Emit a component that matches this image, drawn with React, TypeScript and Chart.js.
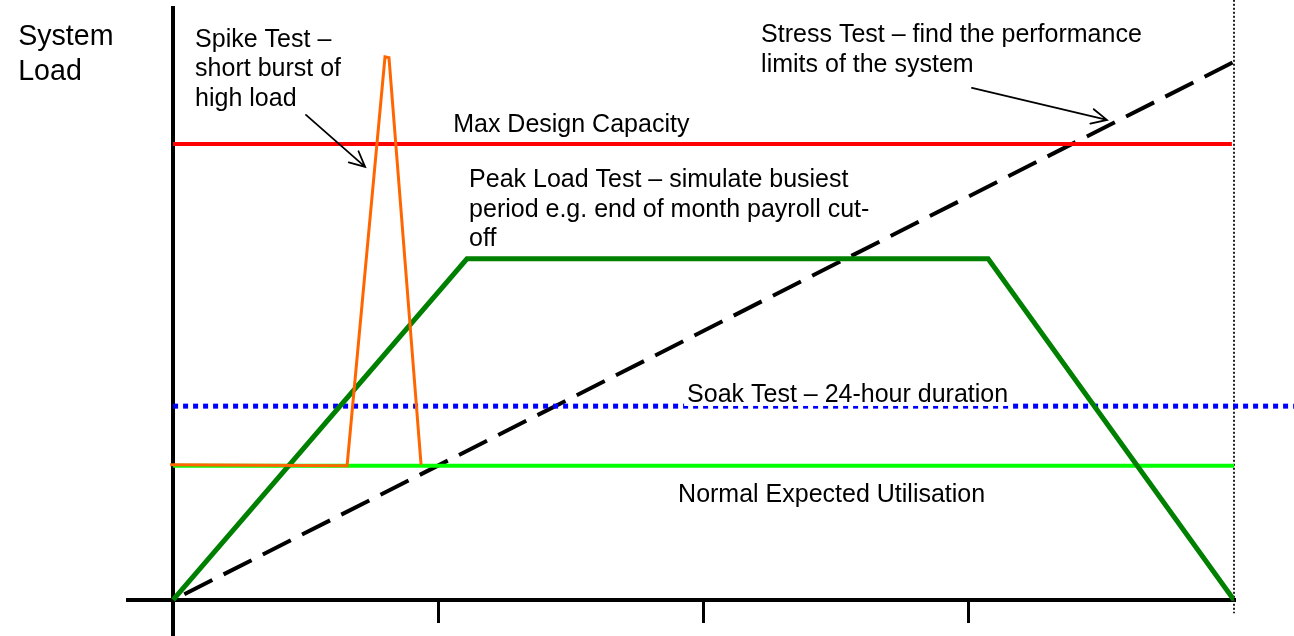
import React, { useEffect, useRef } from "react";
import { Chart, registerables } from "chart.js";

Chart.register(...registerables);

// ---- data (x: time periods 0..4, y: system load, Max Design Capacity = 100) ----
const peakX = [0, 1.108, 3.073, 4];
const peakY = [0, 74.8, 74.8, 0];
const spikeX = [-0.011, 0.656, 0.799, 0.814, 0.935];
const spikeY = [29.65, 29.45, 119.1, 118.9, 29.65];
const stressX = [0, 4];
const stressY = [0, 118.0];
const maxX = [0, 3.992];
const maxY = [100, 100];
const normalX = [0, 4];
const normalY = [29.45, 29.45];
const soakX = [0, 4.226];
const soakY = [42.5, 42.5];
const boundaryX = [4, 4];
const boundaryY = [131.6, -2.9];
const xTickValues = [1, 2, 3];

const X_MIN = -0.17;
const X_MAX = 4;
const Y_MIN = -7.9;
const Y_MAX = 129.8;

// ---- annotation texts (anchored in data coordinates: left / baseline) ----
const labelTexts = [
  "System", "Load",
  "Spike Test –", "short burst of", "high load",
  "Stress Test – find the performance", "limits of the system",
  "Max Design Capacity",
  "Peak Load Test – simulate busiest", "period e.g. end of month payroll cut-", "off",
  "Soak Test – 24-hour duration",
  "Normal Expected Utilisation",
];
const labelX = [-0.584, -0.584, 0.083, 0.083, 0.083, 2.217, 2.217, 1.056, 1.116, 1.116, 1.116, 1.938, 1.904];
const labelY = [121.71, 114.04, 121.27, 114.8, 108.33, 122.37, 115.79, 102.63, 90.57, 83.99, 77.63, 43.42, 21.49];
const labelSize = [28.6, 28.6, 25, 25, 25, 25, 25, 25, 25, 25, 25, 25, 25];
const labelBg = [false, false, false, false, false, false, false, false, false, false, false, true, false];

// arrows: [x1, y1, x2, y2] in data coordinates
const arrowFromX = [0.501, 3.012];
const arrowFromY = [106.36, 112.28];
const arrowToX = [0.724, 3.521];
const arrowToY = [94.96, 105.26];

const pts = (xs: number[], ys: number[]) => xs.map((x, i) => ({ x, y: ys[i] }));

const annotationPlugin = {
  id: "annotations",
  afterDatasetsDraw(chart: any) {
    const { ctx } = chart;
    const xs = chart.scales.x;
    const ys = chart.scales.y;
    ctx.save();
    // arrows
    ctx.strokeStyle = "#000";
    ctx.lineWidth = 1.8;
    ctx.lineCap = "round";
    for (let i = 0; i < arrowFromX.length; i++) {
      const x1 = xs.getPixelForValue(arrowFromX[i]);
      const y1 = ys.getPixelForValue(arrowFromY[i]);
      const x2 = xs.getPixelForValue(arrowToX[i]);
      const y2 = ys.getPixelForValue(arrowToY[i]);
      const a = Math.atan2(y2 - y1, x2 - x1);
      const hl = 17;
      const ha = 0.45;
      ctx.beginPath();
      ctx.moveTo(x1, y1);
      ctx.lineTo(x2, y2);
      ctx.moveTo(x2 - hl * Math.cos(a - ha), y2 - hl * Math.sin(a - ha));
      ctx.lineTo(x2, y2);
      ctx.lineTo(x2 - hl * Math.cos(a + ha), y2 - hl * Math.sin(a + ha));
      ctx.stroke();
    }
    // labels
    ctx.textBaseline = "alphabetic";
    ctx.textAlign = "left";
    for (let i = 0; i < labelTexts.length; i++) {
      ctx.font = `${labelSize[i]}px "Liberation Sans", Arial, sans-serif`;
      const px = xs.getPixelForValue(labelX[i]);
      const py = ys.getPixelForValue(labelY[i]);
      if (labelBg[i]) {
        const w = ctx.measureText(labelTexts[i]).width;
        ctx.fillStyle = "#fff";
        ctx.fillRect(px - 3, py - 20, w + 6, 24);
      }
      ctx.fillStyle = "#000";
      ctx.fillText(labelTexts[i], px, py);
    }
    ctx.restore();
  },
};

export default function App() {
  const canvasRef = useRef<HTMLCanvasElement | null>(null);

  useEffect(() => {
    const canvas = canvasRef.current;
    if (!canvas) return;
    const line = (data: any, color: string, width: number, extra: any = {}) => ({
      data,
      borderColor: color,
      backgroundColor: color,
      borderWidth: width,
      pointRadius: 0,
      pointHoverRadius: 0,
      tension: 0,
      fill: false,
      borderCapStyle: "butt",
      borderJoinStyle: "miter",
      ...extra,
    });
    const chart = new Chart(canvas, {
      type: "line",
      data: {
        datasets: [
          line(pts(spikeX, spikeY), "#ff6600", 3, { label: "Spike Test" }),
          line(pts(maxX, maxY), "#ff0000", 4, { label: "Max Design Capacity" }),
          line(pts(peakX, peakY), "#008000", 5, { label: "Peak Load Test" }),
          line(pts(normalX, normalY), "#00ff00", 4, { label: "Normal Expected Utilisation" }),
          line(pts(soakX, soakY), "#0000ff", 5, { label: "Soak Test", borderDash: [5, 5], clip: false }),
          line(pts(stressX, stressY), "#000000", 4, { label: "Stress Test", borderDash: [31.4, 12.6], borderDashOffset: 31.4 }),
          line(pts(boundaryX, boundaryY), "#222222", 2, { label: "End", borderDash: [2, 2], clip: false }),
        ],
      },
      options: {
        animation: false,
        responsive: false,
        devicePixelRatio: 1,
        layout: { padding: { left: 128, right: 60, top: 8, bottom: 0 } },
        plugins: { legend: { display: false }, tooltip: { enabled: false } },
        events: [],
        scales: {
          x: {
            type: "linear",
            position: { y: 0 } as any,
            min: X_MIN,
            max: X_MAX,
            afterBuildTicks: (scale: any) => {
              scale.ticks = xTickValues.map((v) => ({ value: v }));
            },
            ticks: { display: false },
            grid: {
              display: true,
              drawOnChartArea: false,
              drawTicks: true,
              tickLength: 21,
              tickWidth: 3,
              tickColor: "#000",
              color: "#000",
              lineWidth: 3,
            },
            border: { display: true, color: "#000", width: 4 },
          },
          y: {
            type: "linear",
            position: { x: 0 } as any,
            min: Y_MIN,
            max: Y_MAX,
            ticks: { display: false },
            grid: { display: true, drawOnChartArea: false, drawTicks: false, lineWidth: 0, color: "rgba(0,0,0,0)" },
            border: { display: true, color: "#000", width: 4 },
          },
        },
      },
      plugins: [annotationPlugin],
    } as any);
    return () => chart.destroy();
  }, []);

  return (
    <div style={{ position: "fixed", left: 0, top: 0, width: 1294, height: 636, background: "#fff" }}>
      <canvas ref={canvasRef} width={1294} height={636} style={{ width: 1294, height: 636, display: "block" }} />
    </div>
  );
}
